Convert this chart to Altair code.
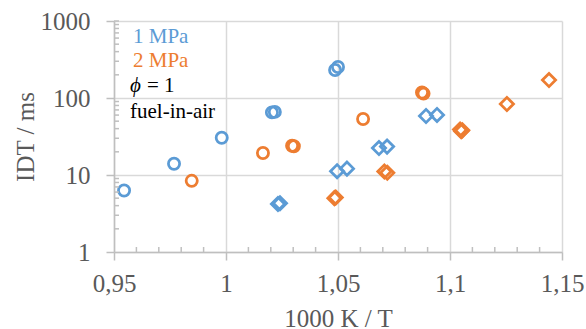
import altair as alt
import pandas as pd

# Ignition delay times, 1000 K / T vs IDT (ms)
p1_circle_x = [0.9545, 0.9768, 0.9981, 1.0205, 1.0218, 1.0487, 1.0500]
p1_circle_idt = [6.3, 14.0, 30.5, 65.0, 66.0, 231, 253]
p1_diamond_x = [1.0232, 1.0241, 1.0496, 1.0540, 1.0683, 1.0719, 1.0893, 1.0942]
p1_diamond_idt = [4.2, 4.3, 11.2, 12.1, 22.4, 23.4, 58.4, 60.2]
p2_circle_x = [0.9847, 1.0165, 1.0295, 1.0303, 1.0612, 1.0875, 1.0882]
p2_circle_idt = [8.4, 19.3, 24.0, 23.6, 53.4, 118, 114]
p2_diamond_x = [1.0484, 1.0490, 1.0707, 1.0720, 1.1045, 1.1050, 1.1055, 1.1254, 1.1442]
p2_diamond_idt = [5.0, 5.1, 11.1, 10.7, 39.0, 37.0, 38.0, 83.6, 171]

pressures = ["1 MPa", "2 MPa"]
pressure_colors = ["#5B9BD5", "#ED7D31"]
markers = ["circle", "diamond"]

x_major = [0.95, 1.0, 1.05, 1.1, 1.15]
x_minor = [0.96, 0.97, 0.98, 0.99, 1.01, 1.02, 1.03, 1.04, 1.06, 1.07, 1.08,
           1.09, 1.11, 1.12, 1.13, 1.14]
y_decades = [0, 1, 2, 3]          # log10 of 1, 10, 100, 1000 ms
y_minor = [2, 3, 4, 5, 6, 7, 8, 9, 20, 30, 40, 50, 60, 70, 80, 90,
           200, 300, 400, 500, 600, 700, 800, 900, 1000]

rows = []
for xs, ys, p, m in [
    (p1_circle_x, p1_circle_idt, pressures[0], markers[0]),
    (p1_diamond_x, p1_diamond_idt, pressures[0], markers[1]),
    (p2_circle_x, p2_circle_idt, pressures[1], markers[0]),
    (p2_diamond_x, p2_diamond_idt, pressures[1], markers[1]),
]:
    for xv, yv in zip(xs, ys):
        rows.append({"inv_t": xv, "idt": yv, "pressure": p, "marker": m})
df = pd.DataFrame(rows)

FONT = "Liberation Serif"
AXIS_GREY = "#BFBFBF"
GRID_GREY = "#D9D9D9"

# the vertical axis is logarithmic: values are plotted as log10(IDT)
x_scale = alt.Scale(domain=[0.95, 1.15], nice=False, zero=False)
y_scale = alt.Scale(domain=[0, 3], nice=False, zero=False)

x_axis = alt.Axis(
    values=x_major,
    format="~g",
    title="1000 K / T",
    grid=True,
    tickSize=8,
    labelPadding=31,
    labelBaseline="alphabetic",
    labelFlush=False,
    labelOverlap=False,
    titleBaseline="alphabetic",
    titleX=224,
    titleY=74,
)
y_axis = alt.Axis(
    values=y_decades,
    labelExpr="format(pow(10, datum.value), 'd')",
    title="IDT / ms",
    grid=True,
    tickSize=8,
    labelPadding=16,
    labelFlush=False,
    labelOverlap=False,
    titleBaseline="alphabetic",
    titleX=-81,
    titleY=115.5,
)

points = alt.Chart(df).transform_calculate(
    log_idt="log(datum.idt) / LN10"
).mark_point(filled=False, strokeWidth=2.75, opacity=1).encode(
    x=alt.X("inv_t:Q", scale=x_scale, axis=x_axis),
    y=alt.Y("log_idt:Q", scale=y_scale, axis=y_axis),
    color=alt.Color("pressure:N", scale=alt.Scale(domain=pressures, range=pressure_colors), legend=None),
    shape=alt.Shape("marker:N", scale=alt.Scale(domain=markers, range=markers), legend=None),
    size=alt.Size("marker:N", scale=alt.Scale(domain=markers, range=[125, 175]), legend=None),
)

# short inner minor ticks along both axes
x_ticks = alt.Chart(pd.DataFrame({"v": x_minor})).mark_rule(
    strokeWidth=1.5, color=AXIS_GREY
).encode(x=alt.X("v:Q", scale=x_scale, axis=x_axis), y=alt.value(226), y2=alt.value(231))

y_ticks = alt.Chart(pd.DataFrame({"w": y_minor})).transform_calculate(
    log_w="log(datum.w) / LN10"
).mark_rule(strokeWidth=1.5, color=AXIS_GREY).encode(
    y=alt.Y("log_w:Q", scale=y_scale, axis=y_axis), x=alt.value(0), x2=alt.value(5))

text_common = dict(font=FONT, fontSize=21, align="left", baseline="alphabetic")
lbl_1 = alt.Chart(pd.DataFrame({"t": [pressures[0]]})).mark_text(color=pressure_colors[0], **text_common).encode(
    text="t:N", x=alt.value(19), y=alt.value(22))
lbl_2 = alt.Chart(pd.DataFrame({"t": [pressures[1]]})).mark_text(color=pressure_colors[1], **text_common).encode(
    text="t:N", x=alt.value(19), y=alt.value(46))
lbl_phi = alt.Chart(pd.DataFrame({"t": ["ϕ"]})).mark_text(color="black", fontStyle="italic", **text_common).encode(
    text="t:N", x=alt.value(16), y=alt.value(71))
lbl_eq = alt.Chart(pd.DataFrame({"t": ["= 1"]})).mark_text(color="black", **text_common).encode(
    text="t:N", x=alt.value(33), y=alt.value(71))
lbl_mix = alt.Chart(pd.DataFrame({"t": ["fuel-in-air"]})).mark_text(color="black", **text_common).encode(
    text="t:N", x=alt.value(16), y=alt.value(97))

chart = alt.layer(points, x_ticks, y_ticks, lbl_1, lbl_2, lbl_phi, lbl_eq, lbl_mix).properties(
    width=448,
    height=231,
    autosize=alt.AutoSizeParams(type="none"),
    padding={"left": 114, "top": 21, "right": 24, "bottom": 77},
).configure(
    locale=alt.Locale(number=alt.NumberLocale(
        decimal=",", thousands=".", grouping=[3], currency=["", " €"]
    ))
).configure_view(stroke=None).configure_axis(
    labelFont=FONT,
    labelFontSize=25,
    labelColor="#595959",
    titleFont=FONT,
    titleFontSize=25,
    titleFontWeight="normal",
    titleColor="#595959",
    gridColor=GRID_GREY,
    gridWidth=1.5,
    domainColor=AXIS_GREY,
    domainWidth=1.5,
    tickColor=AXIS_GREY,
    tickWidth=1.5,
)

chart.save("out.html", embed_options={"renderer": "svg", "actions": False})
